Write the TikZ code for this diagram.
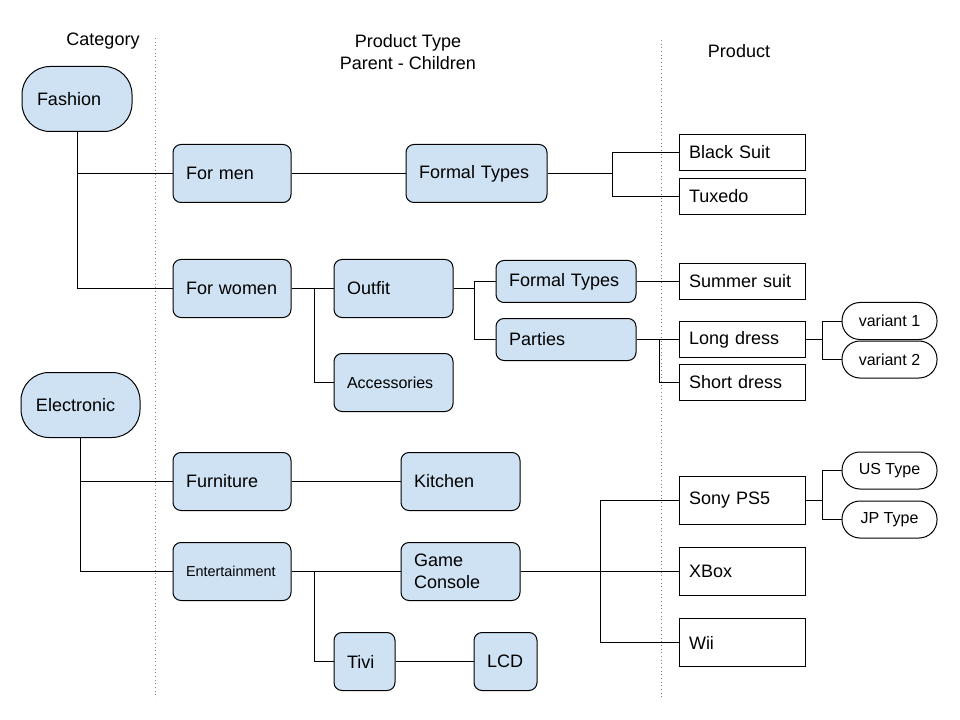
\documentclass[tikz,border=0pt]{standalone}
\usepackage{fontspec}
\setmainfont{Liberation Sans}
\usetikzlibrary{positioning}
\definecolor{typeblue}{HTML}{CFE2F3}

\tikzset{
  cat/.style={draw, fill=typeblue, line width=0.75pt, rounded corners=21pt, minimum height=48.75pt, inner xsep=11.25pt, align=left, font=\fontsize{13.5}{16.5}\selectfont},
  ptype/.style={draw, fill=typeblue, line width=0.75pt, rounded corners=6pt, minimum height=43.5pt, inner xsep=9.75pt, align=left, font=\fontsize{13.5}{16.5}\selectfont},
  prod/.style={draw, fill=white, line width=0.75pt, minimum height=27pt, inner xsep=7.5pt, text width=79.5pt, align=left, font=\fontsize{13.5}{16.5}\selectfont},
  variant/.style={draw, fill=white, line width=0.75pt, rounded corners=13.5pt, minimum width=71.25pt, minimum height=27.75pt, font=\fontsize{12}{14}\selectfont},
  head/.style={align=center, font=\fontsize{13.5}{16.5}\selectfont},
  link/.style={line width=0.75pt},
  divider/.style={line width=0.75pt, color=gray, dotted}
}

\begin{document}
\begin{tikzpicture}[x=0.75pt, y=-0.75pt]
\useasboundingbox (0,0) rectangle (960,720);
\draw[divider](155,38) -- (155,698);
\draw[divider](661,40) -- (661,698);

\node[head] (hcat) at (103,41) {Category};
\node[head] (htype) at (408,52) {Product Type\\Parent - Children};
\node[head] (hprod) at (739,51) {Product};

\node[cat, text width=60pt] (fashion) at (77,99) {Fashion};
\node[cat, text width=66.75pt] (electronic) at (80.5,405) {Electronic};

\node[ptype, text width=69pt] (formen) at (232,173.5) {For men};
\node[ptype, text width=86.25pt] (formal) at (476.5,173.5) {Formal Types};
\node[prod] (blacksuit) at (742,152.5) {Black Suit};
\node[prod] (tuxedo) at (742,196.5) {Tuxedo};

\node[ptype, text width=69pt] (forwomen) at (232,288.5) {For women};
\node[ptype, text width=69.75pt] (outfit) at (393.5,288.5) {Outfit};
\node[ptype, text width=69.75pt, font=\fontsize{12}{14}\selectfont] (accessories) at (393.5,382.5) {Accessories};
\node[ptype, text width=85.5pt, minimum height=31.5pt] (formalw) at (566,281.5) {Formal Types};
\node[ptype, text width=85.5pt, minimum height=31.5pt] (parties) at (566,339.5) {Parties};
\node[prod] (summersuit) at (742,281.5) {Summer suit};
\node[prod] (longdress) at (742,339.5) {Long dress};
\node[prod] (shortdress) at (742,382) {Short dress};
\node[variant] (variant1) at (889.5,321) {variant 1};
\node[variant] (variant2) at (889.5,359.5) {variant 2};

\node[ptype, text width=69pt] (furniture) at (232,481.5) {Furniture};
\node[ptype, text width=69.75pt] (kitchen) at (460.5,481.5) {Kitchen};
\node[ptype, text width=69pt, font=\fontsize{10.8}{13}\selectfont] (entertainment) at (232,571.5) {Entertainment};
\node[ptype, text width=69.75pt] (console) at (460.5,571.5) {Game\\Console};
\node[ptype, text width=26.25pt] (tivi) at (364.5,661.5) {Tivi};
\node[ptype, text width=27.75pt] (lcd) at (505.5,661.5) {LCD};

\node[prod, minimum height=36pt] (sony) at (742,500.5) {Sony PS5};
\node[prod, minimum height=36pt] (xbox) at (742,571.5) {XBox};
\node[prod, minimum height=36pt] (wii) at (742,642.5) {Wii};
\node[variant] (ustype) at (889.5,470.5) {US Type};
\node[variant] (jptype) at (889.5,519.5) {JP Type};

\coordinate (forkformal) at (612,173.5);
\coordinate (forkwomen) at (314,288.5);
\coordinate (forkoutfit) at (474,288.5);
\coordinate (forkparties) at (659,339.5);
\coordinate (forklong) at (822,339.5);
\coordinate (forkent) at (314,571.5);
\coordinate (forkconsole) at (600,571.5);
\coordinate (forksony) at (822,500.5);

\draw[link](fashion.south) |- (formen.west);
\draw[link](fashion.south) |- (forwomen.west);
\draw[link](formen.east) -- (formal.west);
\draw[link](formal.east) -- (forkformal);
\draw[link](forkformal) |- (blacksuit.west);
\draw[link](forkformal) |- (tuxedo.west);
\draw[link](forwomen.east) -- (outfit.west);
\draw[link](forkwomen) |- (accessories.west);
\draw[link](outfit.east) -- (forkoutfit);
\draw[link](forkoutfit) |- (formalw.west);
\draw[link](forkoutfit) |- (parties.west);
\draw[link](formalw.east) -- (summersuit.west);
\draw[link](parties.east) -- (longdress.west);
\draw[link](forkparties) |- (shortdress.west);
\draw[link](longdress.east) -- (forklong);
\draw[link](forklong) |- (variant1.west);
\draw[link](forklong) |- (variant2.west);

\draw[link](electronic.south) |- (furniture.west);
\draw[link](electronic.south) |- (entertainment.west);
\draw[link](furniture.east) -- (kitchen.west);
\draw[link](entertainment.east) -- (console.west);
\draw[link](forkent) |- (tivi.west);
\draw[link](tivi.east) -- (lcd.west);
\draw[link](console.east) -- (xbox.west);
\draw[link](forkconsole) |- (sony.west);
\draw[link](forkconsole) |- (wii.west);
\draw[link](sony.east) -- (forksony);
\draw[link](forksony) |- (ustype.west);
\draw[link](forksony) |- (jptype.west);
\end{tikzpicture}
\end{document}
